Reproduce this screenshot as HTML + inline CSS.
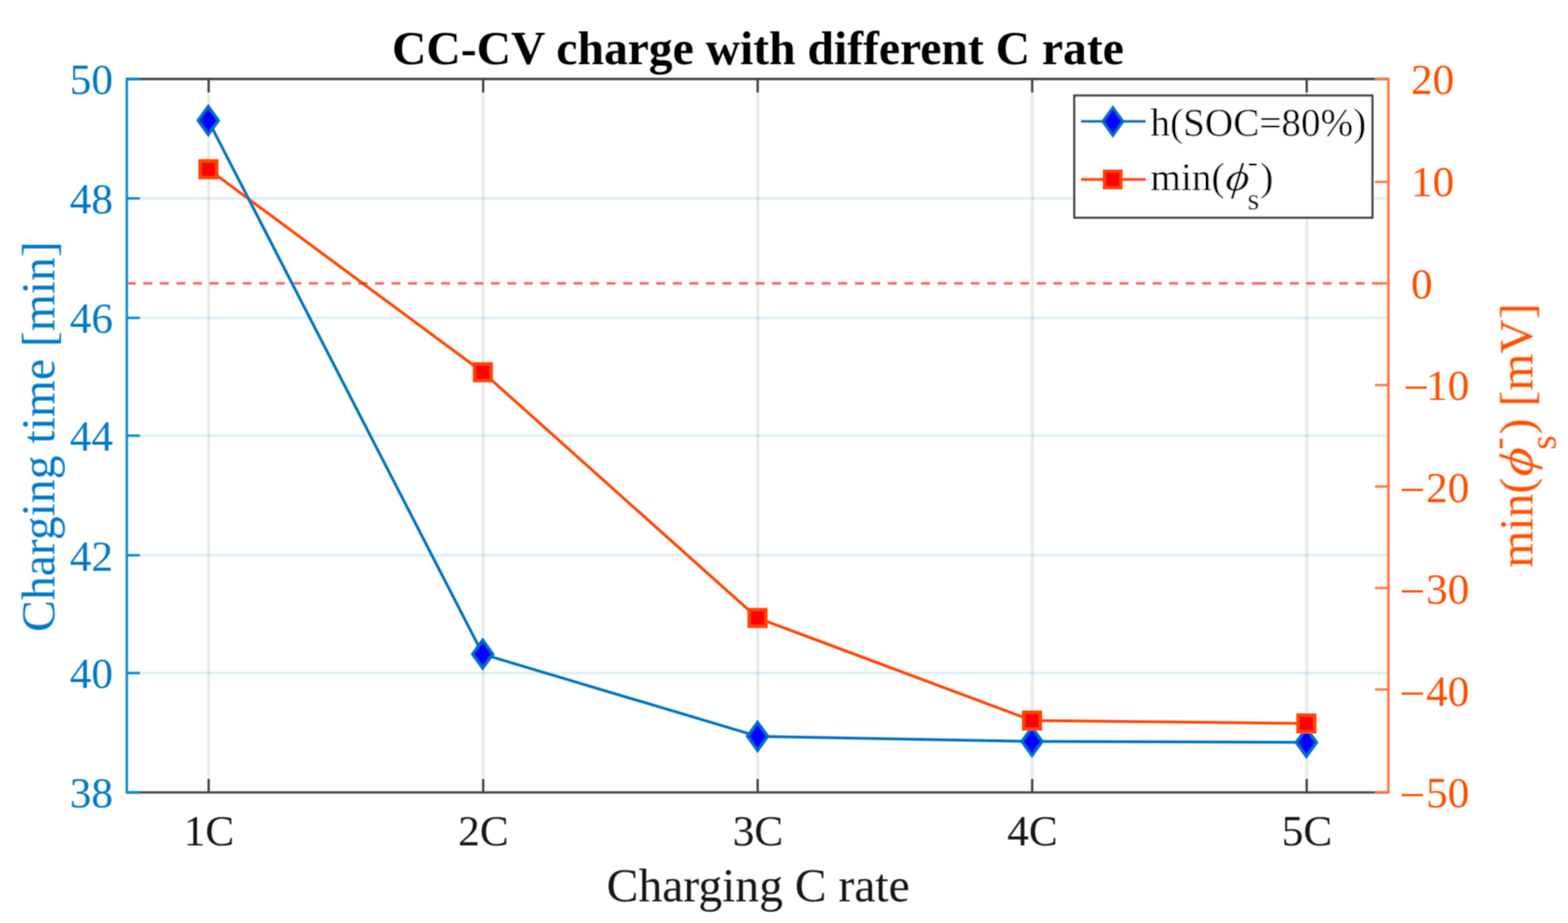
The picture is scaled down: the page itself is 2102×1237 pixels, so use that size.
<!DOCTYPE html>
<html><head><meta charset="utf-8"><title>CC-CV charge with different C rate</title>
<style>html,body{margin:0;padding:0;background:#fff;overflow:hidden}svg{display:block}</style>
</head><body>
<svg width="2102" height="1237" viewBox="0 0 2102 1237">
<defs><filter id="soft" filterUnits="userSpaceOnUse" x="0" y="0" width="2102" height="1237"><feConvolveMatrix order="3" kernelMatrix="1 2 1 2 4 2 1 2 1" divisor="16" edgeMode="duplicate" preserveAlpha="false"/></filter></defs>
<rect width="2102" height="1237" fill="#fff"/>
<g filter="url(#soft)">
<line x1="279.7" y1="105.9" x2="279.7" y2="1062.0" stroke="#262626" stroke-opacity="0.12" stroke-width="3.2"/>
<line x1="647.7" y1="105.9" x2="647.7" y2="1062.0" stroke="#262626" stroke-opacity="0.12" stroke-width="3.2"/>
<line x1="1015.7" y1="105.9" x2="1015.7" y2="1062.0" stroke="#262626" stroke-opacity="0.12" stroke-width="3.2"/>
<line x1="1383.7" y1="105.9" x2="1383.7" y2="1062.0" stroke="#262626" stroke-opacity="0.12" stroke-width="3.2"/>
<line x1="1751.7" y1="105.9" x2="1751.7" y2="1062.0" stroke="#262626" stroke-opacity="0.12" stroke-width="3.2"/>
<line x1="170.0" y1="265.9" x2="1861.2" y2="265.9" stroke="#0072BD" stroke-opacity="0.13" stroke-width="3.4"/>
<line x1="170.0" y1="426.0" x2="1861.2" y2="426.0" stroke="#0072BD" stroke-opacity="0.13" stroke-width="3.4"/>
<line x1="170.0" y1="583.9" x2="1861.2" y2="583.9" stroke="#0072BD" stroke-opacity="0.13" stroke-width="3.4"/>
<line x1="170.0" y1="744.1" x2="1861.2" y2="744.1" stroke="#0072BD" stroke-opacity="0.13" stroke-width="3.4"/>
<line x1="170.0" y1="902.0" x2="1861.2" y2="902.0" stroke="#0072BD" stroke-opacity="0.13" stroke-width="3.4"/>
<polyline points="279.4,226.8 647.3,498.9 1015.5,828.2 1383.5,965.7 1751.3,969.6" fill="none" stroke="#FF4500" stroke-width="3.8" stroke-linejoin="round"/>
<g stroke="#FF0000" stroke-opacity="0.6" stroke-width="3.6" fill="none">
<line x1="170.0" y1="379.8" x2="1690.2" y2="379.8" stroke-dasharray="12 10.18"/>
<line x1="1690.2" y1="379.8" x2="1697.1" y2="379.8"/>
<line x1="1707" y1="379.8" x2="1861.2" y2="379.8" stroke-dasharray="12 10.05"/>
</g>
<polyline points="279.2,161.4 647.1,876.7 1015.6,986.8 1383.5,993.7 1751.3,994.9" fill="none" stroke="#0072BD" stroke-width="3.8" stroke-linejoin="round"/>
<path d="M279.2,142.4 L292.9,161.4 L279.2,180.4 L265.5,161.4 Z" fill="#0000FF" stroke="#0072BD" stroke-width="4.0"/>
<path d="M647.1,857.7 L660.8,876.7 L647.1,895.7 L633.4,876.7 Z" fill="#0000FF" stroke="#0072BD" stroke-width="4.0"/>
<path d="M1015.6,967.8 L1029.3,986.8 L1015.6,1005.8 L1001.9,986.8 Z" fill="#0000FF" stroke="#0072BD" stroke-width="4.0"/>
<path d="M1383.5,974.7 L1397.2,993.7 L1383.5,1012.7 L1369.8,993.7 Z" fill="#0000FF" stroke="#0072BD" stroke-width="4.0"/>
<path d="M1751.3,975.9 L1765.0,994.9 L1751.3,1013.9 L1737.6,994.9 Z" fill="#0000FF" stroke="#0072BD" stroke-width="4.0"/>
<rect x="268.15" y="215.55" width="22.5" height="22.5" fill="#FF0000" stroke="#FF4500" stroke-width="4.5"/>
<rect x="636.05" y="487.65" width="22.5" height="22.5" fill="#FF0000" stroke="#FF4500" stroke-width="4.5"/>
<rect x="1004.25" y="816.95" width="22.5" height="22.5" fill="#FF0000" stroke="#FF4500" stroke-width="4.5"/>
<rect x="1372.25" y="954.45" width="22.5" height="22.5" fill="#FF0000" stroke="#FF4500" stroke-width="4.5"/>
<rect x="1740.05" y="958.35" width="22.5" height="22.5" fill="#FF0000" stroke="#FF4500" stroke-width="4.5"/>
<line x1="170.0" y1="105.9" x2="1861.2" y2="105.9" stroke="#404040" stroke-width="3.2"/>
<line x1="170.0" y1="1062.0" x2="1861.2" y2="1062.0" stroke="#404040" stroke-width="3.2"/>
<line x1="279.7" y1="105.9" x2="279.7" y2="123.9" stroke="#404040" stroke-width="3"/>
<line x1="279.7" y1="1062.0" x2="279.7" y2="1044.0" stroke="#404040" stroke-width="3"/>
<line x1="647.7" y1="105.9" x2="647.7" y2="123.9" stroke="#404040" stroke-width="3"/>
<line x1="647.7" y1="1062.0" x2="647.7" y2="1044.0" stroke="#404040" stroke-width="3"/>
<line x1="1015.7" y1="105.9" x2="1015.7" y2="123.9" stroke="#404040" stroke-width="3"/>
<line x1="1015.7" y1="1062.0" x2="1015.7" y2="1044.0" stroke="#404040" stroke-width="3"/>
<line x1="1383.7" y1="105.9" x2="1383.7" y2="123.9" stroke="#404040" stroke-width="3"/>
<line x1="1383.7" y1="1062.0" x2="1383.7" y2="1044.0" stroke="#404040" stroke-width="3"/>
<line x1="1751.7" y1="105.9" x2="1751.7" y2="123.9" stroke="#404040" stroke-width="3"/>
<line x1="1751.7" y1="1062.0" x2="1751.7" y2="1044.0" stroke="#404040" stroke-width="3"/>
<line x1="170.0" y1="104.30000000000001" x2="170.0" y2="1063.6" stroke="#0088CE" stroke-width="3.2"/>
<line x1="170.0" y1="1062.0" x2="187.5" y2="1062.0" stroke="#0088CE" stroke-width="3.2"/>
<line x1="170.0" y1="902.0" x2="187.5" y2="902.0" stroke="#0088CE" stroke-width="3.2"/>
<line x1="170.0" y1="744.1" x2="187.5" y2="744.1" stroke="#0088CE" stroke-width="3.2"/>
<line x1="170.0" y1="583.9" x2="187.5" y2="583.9" stroke="#0088CE" stroke-width="3.2"/>
<line x1="170.0" y1="426.0" x2="187.5" y2="426.0" stroke="#0088CE" stroke-width="3.2"/>
<line x1="170.0" y1="265.9" x2="187.5" y2="265.9" stroke="#0088CE" stroke-width="3.2"/>
<line x1="170.0" y1="105.9" x2="187.5" y2="105.9" stroke="#0088CE" stroke-width="3.2"/>
<line x1="1861.2" y1="104.30000000000001" x2="1861.2" y2="1063.6" stroke="#FF7840" stroke-width="3.4"/>
<line x1="1861.2" y1="1062.0" x2="1843.2" y2="1062.0" stroke="#FF7840" stroke-width="3.2"/>
<line x1="1861.2" y1="924.0" x2="1843.2" y2="924.0" stroke="#FF7840" stroke-width="3.2"/>
<line x1="1861.2" y1="788.0" x2="1843.2" y2="788.0" stroke="#FF7840" stroke-width="3.2"/>
<line x1="1861.2" y1="652.0" x2="1843.2" y2="652.0" stroke="#FF7840" stroke-width="3.2"/>
<line x1="1861.2" y1="516.0" x2="1843.2" y2="516.0" stroke="#FF7840" stroke-width="3.2"/>
<line x1="1861.2" y1="379.8" x2="1843.2" y2="379.8" stroke="#FF7840" stroke-width="3.2"/>
<line x1="1861.2" y1="243.8" x2="1843.2" y2="243.8" stroke="#FF7840" stroke-width="3.2"/>
<line x1="1861.2" y1="105.9" x2="1843.2" y2="105.9" stroke="#FF7840" stroke-width="3.2"/>
<g font-family="Liberation Serif, serif" font-size="58" fill="#0078C8" text-anchor="end">
<text x="151.4" y="1082.4">38</text>
<text x="151.4" y="922.4">40</text>
<text x="151.4" y="764.5">42</text>
<text x="151.4" y="604.3">44</text>
<text x="151.4" y="446.4">46</text>
<text x="151.4" y="286.3">48</text>
<text x="151.4" y="126.3">50</text>
</g>
<g font-family="Liberation Serif, serif" font-size="58" fill="#FF5000">
<text x="1876.0" y="1086.3" font-size="61" style="stroke:none">−</text><text x="1969.8" y="1082.4" text-anchor="end">50</text>
<text x="1876.0" y="949.7" font-size="61" style="stroke:none">−</text><text x="1969.8" y="945.8" text-anchor="end">40</text>
<text x="1876.0" y="813.1" font-size="61" style="stroke:none">−</text><text x="1969.8" y="809.2" text-anchor="end">30</text>
<text x="1876.0" y="676.5" font-size="61" style="stroke:none">−</text><text x="1969.8" y="672.6" text-anchor="end">20</text>
<text x="1881.2" y="540.0" font-size="61" style="stroke:none">−</text><text x="1969.8" y="536.1" text-anchor="end">10</text>
<text x="1891.4" y="399.5">0</text>
<text x="1891.4" y="262.9">10</text>
<text x="1891.4" y="126.3">20</text>
</g>
<g font-family="Liberation Serif, serif" font-size="58" fill="#161616" text-anchor="middle">
<text x="280.1" y="1133.4">1C</text>
<text x="648.1" y="1133.4">2C</text>
<text x="1016.1" y="1133.4">3C</text>
<text x="1384.1" y="1133.4">4C</text>
<text x="1752.1" y="1133.4">5C</text>
</g>
<text x="1016.5" y="1207.7" font-family="Liberation Serif, serif" font-size="63.8" fill="#161616" text-anchor="middle">Charging C rate</text>
<text x="1016" y="86.3" font-family="Liberation Serif, serif" font-weight="bold" font-size="63.8" fill="#000" text-anchor="middle">CC-CV charge with different C rate</text>
<text transform="translate(72.8,585.1) rotate(-90)" x="0" y="0" font-family="Liberation Serif, serif" font-size="63.8" fill="#0078C8" text-anchor="middle">Charging time [min]</text>
<g transform="translate(2054.3,760.8) rotate(-90)"><g font-family="Liberation Serif, serif" fill="#FF5000"><text x="0" y="0" font-size="63.80">min(</text><text transform="translate(140.00,0) scale(1.17,1) skewX(-5) translate(-141.33,0)" x="125.05" y="0" font-size="63.80" font-style="italic">ϕ</text><text x="157.98" y="30.75" font-size="49.82">s</text><text x="158.22" y="-30.38" font-size="49.82">-</text><text x="178.76" y="0" font-size="63.80">) [mV]</text></g></g>
<rect x="1440.2" y="128" width="399.6" height="163.7" fill="#fff" stroke="#404040" stroke-width="3"/>
<line x1="1449" y1="162.6" x2="1536" y2="162.6" stroke="#0072BD" stroke-width="3.8"/>
<path d="M1491.9,143.8 L1505.6,162.8 L1491.9,181.8 L1478.2,162.8 Z" fill="#0000FF" stroke="#0072BD" stroke-width="4.0"/>
<line x1="1449" y1="240.5" x2="1536" y2="240.5" stroke="#FF4500" stroke-width="3.8"/>
<rect x="1480.45" y="229.25" width="22.5" height="22.5" fill="#FF0000" stroke="#FF4500" stroke-width="4.5"/>
<text x="1542.3" y="181.9" font-family="Liberation Serif, serif" font-size="52.5" fill="#000">h(SOC=80%)</text>
<g transform="translate(1542.3,255.2)"><g font-family="Liberation Serif, serif" fill="#000"><text x="0" y="0" font-size="52.50">min(</text><text transform="translate(115.20,0) scale(1.17,1) skewX(-5) translate(-116.30,0)" x="102.90" y="0" font-size="52.50" font-style="italic">ϕ</text><text x="130.00" y="25.30" font-size="41.00">s</text><text x="130.20" y="-25.00" font-size="41.00">-</text><text x="147.10" y="0" font-size="52.50">)</text></g></g>
</g>
</svg>
</body></html>
